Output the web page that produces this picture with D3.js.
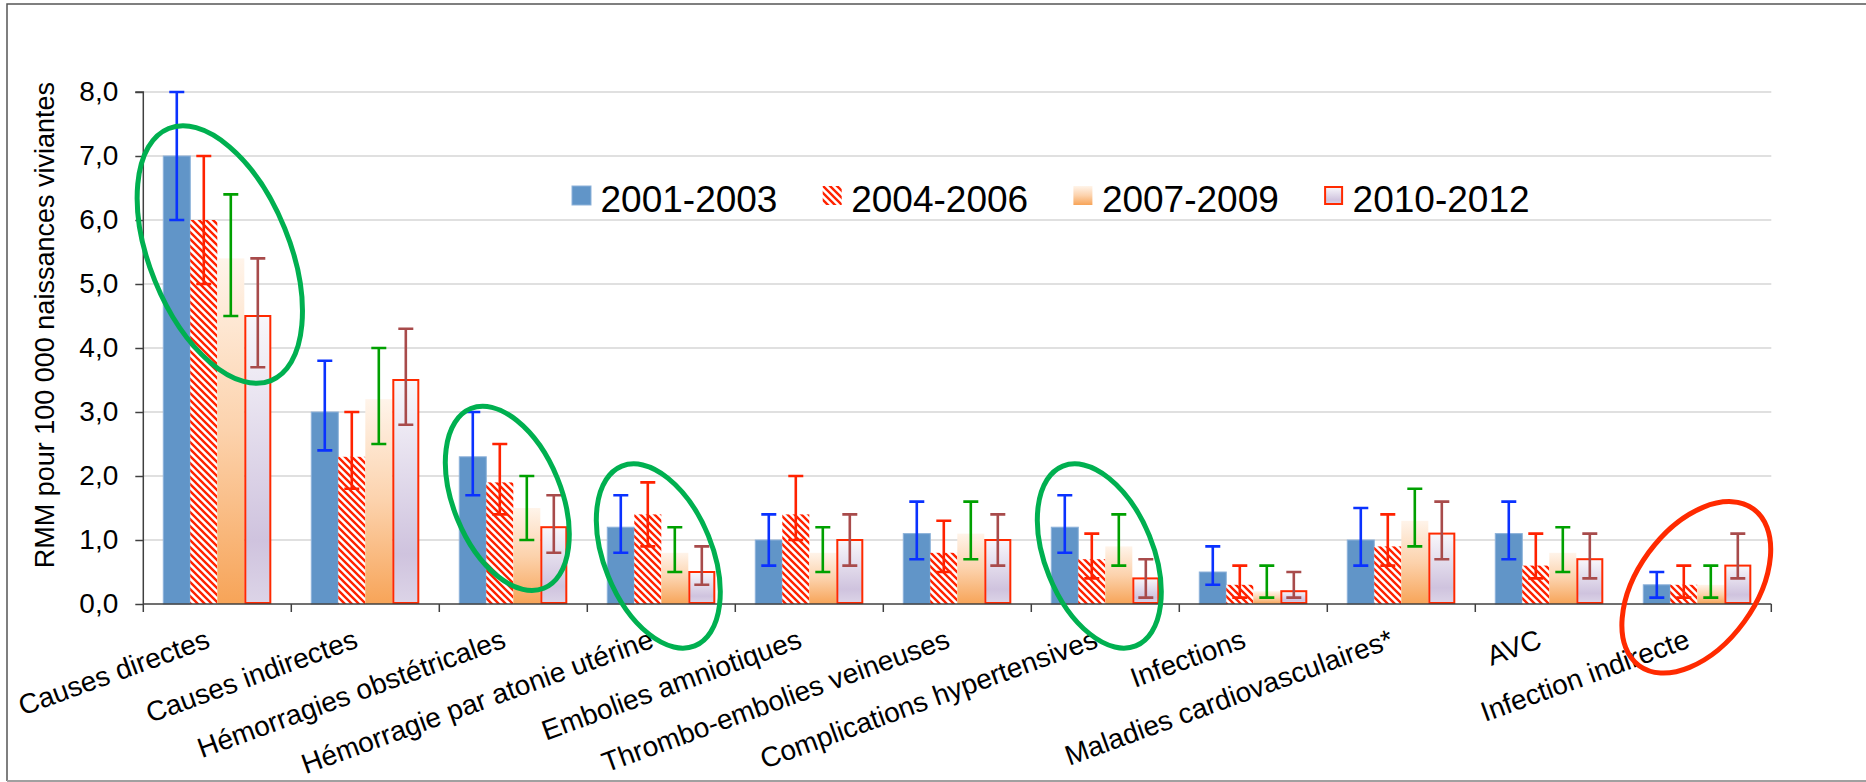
<!DOCTYPE html>
<html><head><meta charset="utf-8">
<script src="https://cdn.jsdelivr.net/npm/d3@7"></script>
<style>body{margin:0;background:#fff}svg{display:block;font-family:"Liberation Sans",Arial,sans-serif}</style>
</head><body><svg id="c" width="1866" height="782"></svg>
<script>
const categories = ["Causes directes","Causes indirectes","Hémorragies obstétricales","Hémorragie par atonie utérine","Embolies amniotiques","Thrombo-embolies veineuses","Complications hypertensives","Infections","Maladies cardiovasculaires*","AVC","Infection indirecte"];
const series = ["2001-2003","2004-2006","2007-2009","2010-2012"];
const v2001  = [7.0,3.0,2.3,1.2,1.0,1.1,1.2,0.5,1.0,1.1,0.3];
const lo2001 = [6.0,2.4,1.7,0.8,0.6,0.7,0.8,0.3,0.6,0.7,0.1];
const hi2001 = [8.0,3.8,3.0,1.7,1.4,1.6,1.7,0.9,1.5,1.6,0.5];
const v2004  = [6.0,2.3,1.9,1.4,1.4,0.8,0.7,0.3,0.9,0.6,0.3];
const lo2004 = [5.0,1.8,1.4,0.9,1.0,0.5,0.4,0.1,0.6,0.4,0.1];
const hi2004 = [7.0,3.0,2.5,1.9,2.0,1.3,1.1,0.6,1.4,1.1,0.6];
const v2007  = [5.4,3.2,1.5,0.8,0.8,1.1,0.9,0.2,1.3,0.8,0.3];
const lo2007 = [4.5,2.5,1.0,0.5,0.5,0.7,0.6,0.1,0.9,0.5,0.1];
const hi2007 = [6.4,4.0,2.0,1.2,1.2,1.6,1.4,0.6,1.8,1.2,0.6];
const v2010  = [4.5,3.5,1.2,0.5,1.0,1.0,0.4,0.2,1.1,0.7,0.6];
const lo2010 = [3.7,2.8,0.8,0.3,0.6,0.6,0.1,0.1,0.7,0.4,0.4];
const hi2010 = [5.4,4.3,1.7,0.9,1.4,1.4,0.7,0.5,1.6,1.1,1.1];
const yTicks = [0,1,2,3,4,5,6,7,8];
const yTitle = "RMM pour 100 000 naissances viviantes";
// annotation ellipses: category index, value at centre
const greenCats = [0,2,3,6];
const greenVals = [5.46,1.65,0.75,0.75];
const redCats = [10];
const redVals = [0.26];

const values = [v2001,v2004,v2007,v2010];
const lows = [lo2001,lo2004,lo2007,lo2010];
const highs = [hi2001,hi2004,hi2007,hi2010];

const svg = d3.select("#c");
const defs = svg.append("defs");
const pat = defs.append("pattern").attr("id","hatch").attr("patternUnits","userSpaceOnUse")
  .attr("width",7).attr("height",7);
pat.append("rect").attr("width",7).attr("height",7).attr("fill","#fff");
pat.append("path").attr("d","M-1,-1L8,8M-1,6L1,8M6,-1L8,1").attr("stroke","#FF2200").attr("stroke-width",2.4);
const g1 = defs.append("linearGradient").attr("id","gOr").attr("x1",0).attr("y1",0).attr("x2",0).attr("y2",1);
g1.append("stop").attr("offset","0").attr("stop-color","#FFF4EA");
g1.append("stop").attr("offset","0.5").attr("stop-color","#FCD2AC");
g1.append("stop").attr("offset","1").attr("stop-color","#F7A458");
const g2 = defs.append("linearGradient").attr("id","gLa").attr("x1",0).attr("y1",0).attr("x2",0).attr("y2",1);
g2.append("stop").attr("offset","0").attr("stop-color","#F8F7FB");
g2.append("stop").attr("offset","0.78").attr("stop-color","#CFC3DE");
g2.append("stop").attr("offset","1").attr("stop-color","#DCD4E7");

const fills = ["#6195C8","url(#hatch)","url(#gOr)","url(#gLa)"];
const strokes = ["#8DB2DA","none","none","#FF2A00"];
const sw = [1,0,0,2];
const errCol = ["#0A32FF","#FF2200","#00A000","#A84B4B"];

const pLeft=143.3, pRight=1771.3, pTop=92, pBottom=604;
const x = d3.scaleBand().domain(categories).range([pLeft,pRight]).padding(0);
const xs = d3.scaleBand().domain(series).range([0,x.bandwidth()]).paddingInner(0).paddingOuter(0.74);
const y = d3.scaleLinear().domain([0,8]).range([pBottom,pTop]);

// frame
svg.append("path").attr("d","M1866,4H7V781").attr("fill","none").attr("stroke","#555").attr("stroke-width",1.5);
svg.append("line").attr("x1",7).attr("x2",1866).attr("y1",781).attr("y2",781).attr("stroke","#A0A0A0").attr("stroke-width",2);

// gridlines
svg.append("g").selectAll("line").data(yTicks.filter(d=>d>0)).join("line")
  .attr("x1",pLeft).attr("x2",pRight).attr("y1",d=>y(d)).attr("y2",d=>y(d))
  .attr("stroke","#D6D6D6").attr("stroke-width",1.5);

// bars
series.forEach((s,si)=>{
  const g = svg.append("g");
  g.selectAll("rect").data(categories).join("rect")
    .attr("x",(c)=>x(c)+xs(s)+(sw[si]>1?1:0))
    .attr("width",xs.bandwidth()-(sw[si]>1?2:0))
    .attr("y",(c,i)=>y(values[si][i]))
    .attr("height",(c,i)=>y(0)-y(values[si][i])-(sw[si]>1?1:0))
    .attr("fill",fills[si]).attr("stroke",strokes[si]).attr("stroke-width",sw[si]);
});
// error bars
series.forEach((s,si)=>{
  const g = svg.append("g").attr("stroke",errCol[si]).attr("stroke-width",2.6).attr("fill","none");
  categories.forEach((c,i)=>{
    const cx = x(c)+xs(s)+xs.bandwidth()/2;
    const yl = y(lows[si][i]), yh = y(highs[si][i]);
    g.append("path").attr("d",`M${cx},${yh}V${yl}M${cx-7.5},${yh}H${cx+7.5}M${cx-7.5},${yl}H${cx+7.5}`);
  });
});

// axes
const yAxis = d3.axisLeft(y).tickValues(yTicks).tickSize(8).tickFormat(d=>d3.format(".1f")(d).replace(".",","));
const ya = svg.append("g").attr("transform",`translate(${pLeft},0)`).call(yAxis);
ya.select(".domain").attr("stroke","#404040").attr("stroke-width",1.5).attr("d",`M-8,${pTop}H0V${pBottom}`);
ya.selectAll(".tick line").attr("stroke","#404040").attr("stroke-width",1.5);
ya.selectAll(".tick text").attr("x",-25).attr("font-size",28).attr("fill","#000").attr("font-family","Liberation Sans, Arial, sans-serif");

const xa = svg.append("g").attr("transform",`translate(0,${pBottom})`);
xa.append("line").attr("x1",pLeft).attr("x2",pRight).attr("stroke","#404040").attr("stroke-width",1.5);
xa.selectAll("line.t").data(d3.range(categories.length+1)).join("line").attr("class","t")
  .attr("x1",i=>pLeft+i*x.step()).attr("x2",i=>pLeft+i*x.step()).attr("y1",0).attr("y2",8)
  .attr("stroke","#404040").attr("stroke-width",1.5);
xa.selectAll("text").data(categories).join("text")
  .attr("transform",c=>`translate(${x(c)+x.bandwidth()/2-6},43) rotate(-20)`)
  .attr("text-anchor","end").attr("font-size",28).attr("fill","#000").text(c=>c);

// y title
svg.append("text").attr("transform","translate(54,82) rotate(-90)").attr("text-anchor","end")
  .attr("font-size",27).attr("fill","#000").text(yTitle);

// legend
const leg = svg.append("g");
series.forEach((s,si)=>{
  const lx = 572 + si*250.7;
  leg.append("rect").attr("x",lx+(si==3?1:0)).attr("y",186+(si==3?1:0)).attr("width",19-(si==3?2:0)).attr("height",19-(si==3?2:0))
    .attr("fill",fills[si]).attr("stroke",strokes[si]).attr("stroke-width",sw[si]);
  leg.append("text").attr("x",lx+28.5).attr("y",212).attr("font-size",37).attr("fill","#000").text(s);
});

// annotation ellipses
const ann = svg.append("g").attr("fill","none").attr("stroke-width",5);
greenCats.forEach((ci,k)=>{
  const cx = x(categories[ci])+x.bandwidth()/2 + (k==0?2.5:(k==2?-3:-6));
  const big = k==0;
  ann.append("ellipse").attr("transform",`translate(${cx},${y(greenVals[k])}) rotate(67.9)`)
    .attr("rx",big?136:97).attr("ry",big?70:54).attr("stroke","#00B050");
});
redCats.forEach((ci,k)=>{
  const cx = x(categories[ci])+x.bandwidth()/2 - 1;
  ann.append("ellipse").attr("transform",`translate(${cx},${y(redVals[k])}) rotate(-53.9)`)
    .attr("rx",97).attr("ry",59).attr("stroke","#FF2A00");
});
</script></body></html>
